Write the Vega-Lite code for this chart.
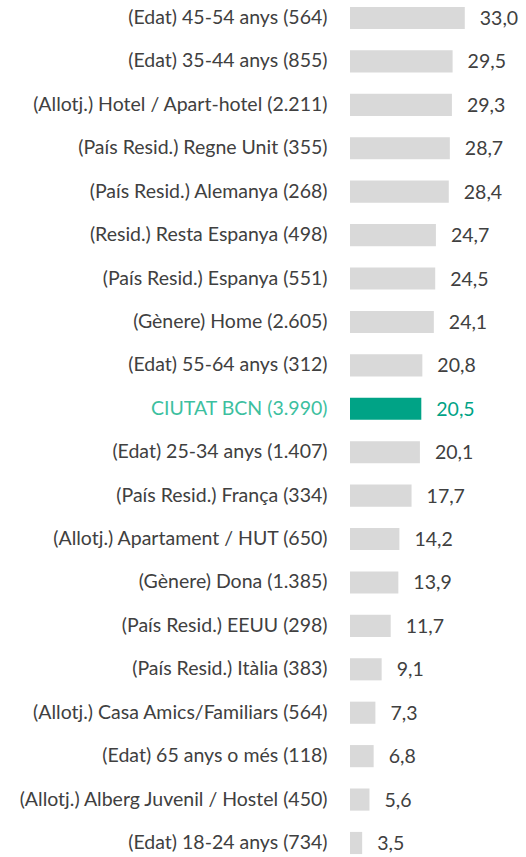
{
  "$schema": "https://vega.github.io/schema/vega-lite/v6.json",
  "width": 176,
  "height": 861,
  "autosize": {"type": "none"},
  "padding": {"left": 350, "top": 0, "right": 0, "bottom": 0},
  "background": "white",
  "config": {
    "view": {"stroke": null},
    "locale": {"number": {"decimal": ",", "thousands": ".", "grouping": [3], "currency": ["", " €"]}},
    "font": "Lato"
  },
  "data": {
    "values": [
      {"label": "(Edat) 45-54 anys (564)", "value": 33.0},
      {"label": "(Edat) 35-44 anys (855)", "value": 29.5},
      {"label": "(Allotj.) Hotel / Apart-hotel (2.211)", "value": 29.3},
      {"label": "(País Resid.) Regne Unit (355)", "value": 28.7},
      {"label": "(País Resid.) Alemanya (268)", "value": 28.4},
      {"label": "(Resid.) Resta Espanya (498)", "value": 24.7},
      {"label": "(País Resid.) Espanya (551)", "value": 24.5},
      {"label": "(Gènere) Home (2.605)", "value": 24.1},
      {"label": "(Edat) 55-64 anys (312)", "value": 20.8},
      {"label": "CIUTAT BCN (3.990)", "value": 20.5},
      {"label": "(Edat) 25-34 anys  (1.407)", "value": 20.1},
      {"label": "(País Resid.) França (334)", "value": 17.7},
      {"label": "(Allotj.) Apartament / HUT (650)", "value": 14.2},
      {"label": "(Gènere) Dona (1.385)", "value": 13.9},
      {"label": "(País Resid.) EEUU (298)", "value": 11.7},
      {"label": "(País Resid.) Itàlia (383)", "value": 9.1},
      {"label": "(Allotj.) Casa Amics/Familiars (564)", "value": 7.3},
      {"label": "(Edat) 65 anys o més (118)", "value": 6.8},
      {"label": "(Allotj.) Alberg Juvenil / Hostel  (450)", "value": 5.6},
      {"label": "(Edat) 18-24 anys (734)", "value": 3.5}
    ]
  },
  "encoding": {
    "y": {
      "field": "label",
      "type": "nominal",
      "sort": null,
      "scale": {"paddingInner": 0.49, "paddingOuter": 0.16},
      "axis": {
        "title": null,
        "domain": false,
        "ticks": false,
        "labelPadding": 23,
        "labelFontSize": 19.5,
        "labelLimit": 400,
        "labelFont": "Lato",
        "labelColor": {"condition": {"test": "datum.value === 'CIUTAT BCN (3.990)'", "value": "#3dbf9f"}, "value": "#404040"}
      }
    },
    "x": {
      "field": "value",
      "type": "quantitative",
      "scale": {"domain": [0, 50.6], "nice": false},
      "axis": null
    }
  },
  "layer": [
    {
      "mark": {"type": "bar"},
      "encoding": {
        "color": {
          "condition": {"test": "datum.label === 'CIUTAT BCN (3.990)'", "value": "#00a386"},
          "value": "#d9d9d9"
        }
      }
    },
    {
      "mark": {"type": "text", "align": "left", "baseline": "middle", "dx": 15, "dy": 1, "fontSize": 19.5, "font": "Lato"},
      "encoding": {
        "text": {"field": "value", "type": "quantitative", "format": ".1f"},
        "color": {
          "condition": {"test": "datum.label === 'CIUTAT BCN (3.990)'", "value": "#00a386"},
          "value": "#404040"
        }
      }
    }
  ]
}
